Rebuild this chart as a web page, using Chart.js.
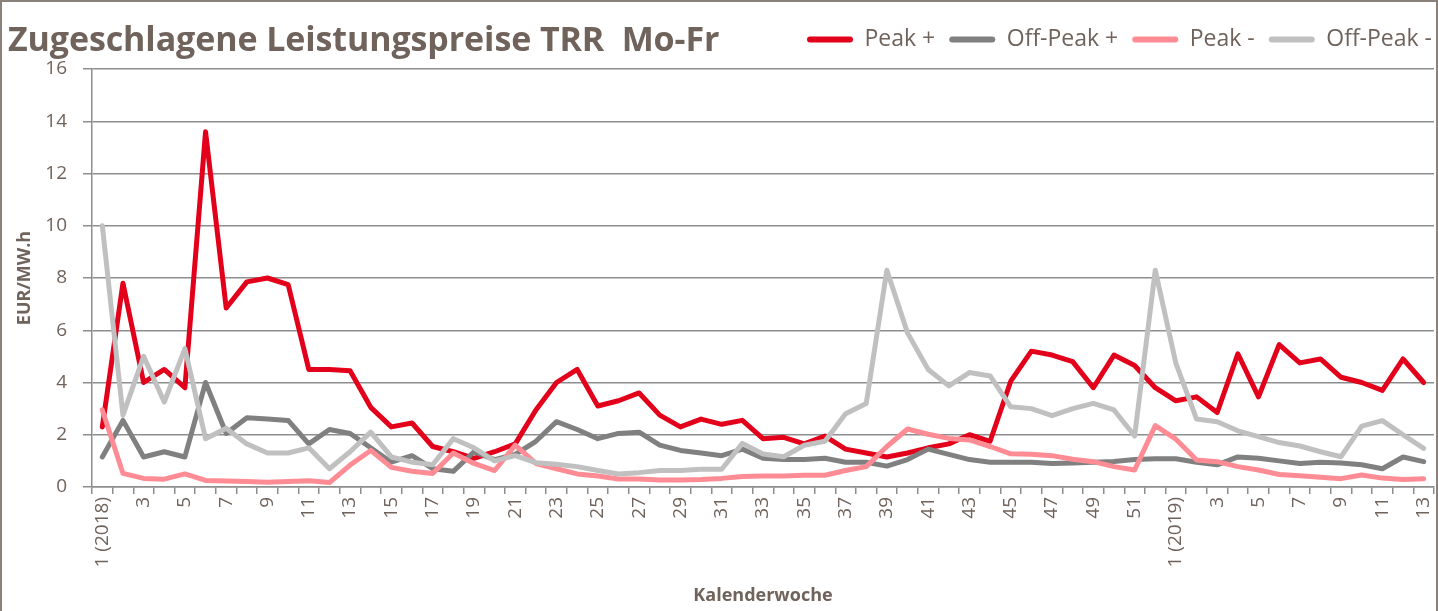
<!DOCTYPE html>
<html>
<head>
<meta charset="utf-8">
<script src="https://cdn.jsdelivr.net/npm/chart.js@4.4.1/dist/chart.umd.min.js"></script>
<style>
  html, body { margin: 0; padding: 0; background: #fff; }
  #frame {
    position: absolute; left: 0; top: 0; width: 1438px; height: 611px;
    box-sizing: border-box; border: 2px solid #8a817a; border-bottom: none;
  }
  #title {
    position: absolute; left: 8px; top: 15px; margin: 0;
    font-family: "Open Sans", sans-serif; font-weight: bold; font-size: 34px;
    line-height: 46px; color: #6f635b; white-space: pre; letter-spacing: -0.1px;
  }
  #wrap { position: absolute; left: 0; top: 0; width: 1438px; height: 611px; }
</style>
</head>
<body>
<div id="wrap"><canvas id="chart" width="1438" height="611"></canvas></div>
<div id="frame"></div>
<h1 id="title">Zugeschlagene Leistungspreise TRR  Mo-Fr</h1>
<script>
(function() {
    'use strict';

    var categories = [
        '1 (2018)', '2', '3', '4', '5', '6', '7', '8', '9', '10', '11', '12', '13',
        '14', '15', '16', '17', '18', '19', '20', '21', '22', '23', '24', '25', '26',
        '27', '28', '29', '30', '31', '32', '33', '34', '35', '36', '37', '38', '39',
        '40', '41', '42', '43', '44', '45', '46', '47', '48', '49', '50', '51', '52',
        '1 (2019)', '2', '3', '4', '5', '6', '7', '8', '9', '10', '11', '12', '13'
    ];

    var peakPlus = [2.3, 7.8, 4.0, 4.5, 3.8, 13.6, 6.85, 7.85, 8.0, 7.75, 4.5, 4.5, 4.45,
        3.05, 2.3, 2.45, 1.55, 1.35, 1.1, 1.35, 1.65, 2.95, 4.0, 4.5, 3.1, 3.3,
        3.6, 2.75, 2.3, 2.6, 2.4, 2.55, 1.85, 1.9, 1.65, 1.95, 1.45, 1.3, 1.15,
        1.3, 1.5, 1.65, 2.0, 1.75, 4.05, 5.2, 5.05, 4.8, 3.8, 5.05, 4.65, 3.8,
        3.3, 3.45, 2.85, 5.1, 3.45, 5.45, 4.75, 4.9, 4.2, 4.0, 3.7, 4.9, 4.0];

    var offPeakPlus = [1.15, 2.55, 1.15, 1.35, 1.15, 4.0, 2.05, 2.65, 2.6, 2.55, 1.65, 2.2, 2.05,
        1.5, 0.95, 1.2, 0.7, 0.6, 1.35, 1.05, 1.25, 1.75, 2.5, 2.2, 1.85, 2.05,
        2.1, 1.6, 1.4, 1.3, 1.2, 1.45, 1.1, 1.05, 1.05, 1.1, 0.95, 0.95, 0.8,
        1.05, 1.45, 1.25, 1.05, 0.95, 0.95, 0.95, 0.9, 0.92, 0.95, 0.98, 1.05, 1.08,
        1.08, 0.95, 0.85, 1.15, 1.1, 1.0, 0.9, 0.95, 0.92, 0.85, 0.7, 1.15, 0.97];

    var peakMinus = [2.95, 0.52, 0.33, 0.3, 0.5, 0.25, 0.23, 0.21, 0.18, 0.21, 0.24, 0.17, 0.84,
        1.4, 0.75, 0.6, 0.52, 1.3, 0.9, 0.63, 1.6, 0.9, 0.7, 0.5, 0.42, 0.31,
        0.31, 0.27, 0.27, 0.29, 0.33, 0.4, 0.42, 0.42, 0.45, 0.45, 0.63, 0.78, 1.55,
        2.22, 2.02, 1.86, 1.8, 1.55, 1.27, 1.25, 1.2, 1.06, 0.97, 0.78, 0.65, 2.35,
        1.83, 1.03, 0.97, 0.78, 0.65, 0.48, 0.43, 0.37, 0.32, 0.46, 0.34, 0.29, 0.32];

    var offPeakMinus = [10.0, 2.75, 5.0, 3.25, 5.3, 1.85, 2.25, 1.65, 1.3, 1.3, 1.5, 0.7, 1.35,
        2.1, 1.15, 0.95, 0.85, 1.85, 1.5, 1.0, 1.2, 0.93, 0.87, 0.78, 0.63, 0.5,
        0.55, 0.63, 0.63, 0.68, 0.68, 1.67, 1.26, 1.16, 1.6, 1.75, 2.8, 3.2, 8.3,
        5.9, 4.5, 3.87, 4.38, 4.25, 3.07, 3.0, 2.73, 3.0, 3.2, 2.95, 1.95, 8.3,
        4.73, 2.6, 2.5, 2.15, 1.93, 1.7, 1.57, 1.35, 1.16, 2.33, 2.54, 2.0, 1.48];

    var textColor = '#6f635b';
    var gridColor = '#8e8e8e';
    var fontFamily = '"Open Sans", sans-serif';

    function series( label, values, color, order ) {
        return {
            label: label,
            data: values,
            borderColor: color,
            backgroundColor: color,
            borderWidth: 5,
            pointRadius: 0,
            tension: 0,
            borderJoinStyle: 'round',
            borderCapStyle: 'round',
            order: order
        };
    }

    // legend sits in the title row, so give it a fixed height
    var legendFit = {
        id: 'legendFit',
        beforeInit: function( chart ) {
            var fit = chart.legend.fit;
            chart.legend.fit = function() {
                fit.call( this );
                this.height = 55;
            };
        }
    };

    var ctx = document.getElementById( 'chart' ).getContext( '2d' );
    new Chart( ctx, {
        type: 'line',
        data: {
            labels: categories,
            datasets: [
                series( 'Peak +', peakPlus, '#e2001a', 4 ),
                series( 'Off-Peak +', offPeakPlus, '#808080', 3 ),
                series( 'Peak -', peakMinus, '#ff8c94', 2 ),
                series( 'Off-Peak -', offPeakMinus, '#c0c0c0', 1 )
            ]
        },
        plugins: [ legendFit ],
        options: {
            responsive: false,
            animation: false,
            layout: { padding: { left: 14, right: -8, top: 14, bottom: 0 } },
            plugins: {
                tooltip: { enabled: false },
                legend: {
                    position: 'top',
                    align: 'end',
                    labels: {
                        color: textColor,
                        font: { family: fontFamily, size: 23 },
                        boxWidth: 46,
                        boxHeight: 6,
                        padding: 14,
                        useBorderRadius: true,
                        borderRadius: 3,
                        sort: function( a, b ) { return a.datasetIndex - b.datasetIndex; },
                        generateLabels: function( chart ) {
                            var items = Chart.defaults.plugins.legend.labels.generateLabels( chart );
                            items.forEach( function( it ) { it.lineWidth = 0; } );
                            return items;
                        }
                    }
                }
            },
            scales: {
                x: {
                    offset: true,
                    afterFit: function( scale ) {
                        scale.height = 124;
                        scale.paddingLeft = 0;
                        scale.paddingRight = 4;
                    },
                    grid: {
                        offset: true,
                        drawOnChartArea: false,
                        drawTicks: true,
                        tickLength: 7,
                        color: gridColor,
                        lineWidth: 1.5
                    },
                    border: { display: true, color: gridColor, width: 1.5 },
                    ticks: {
                        autoSkip: false,
                        minRotation: 90,
                        maxRotation: 90,
                        padding: 3,
                        color: textColor,
                        font: { family: fontFamily, size: 19 },
                        callback: function( value, index ) {
                            return index % 2 === 0 ? this.getLabelForValue( value ) : '';
                        }
                    },
                    title: {
                        display: true,
                        text: 'Kalenderwoche',
                        color: textColor,
                        font: { family: fontFamily, size: 18, weight: 'bold' },
                        padding: { top: 0, bottom: 4 }
                    }
                },
                y: {
                    min: 0,
                    max: 16,
                    afterFit: function( scale ) {
                        scale.width = 78;
                    },
                    ticks: {
                        stepSize: 2,
                        padding: 16,
                        color: textColor,
                        font: { family: fontFamily, size: 19 }
                    },
                    grid: {
                        color: gridColor,
                        lineWidth: 1.5,
                        tickLength: 9
                    },
                    border: { display: true, color: gridColor, width: 1.5 },
                    title: {
                        display: true,
                        text: 'EUR/MW.h',
                        color: textColor,
                        font: { family: fontFamily, size: 18, weight: 'bold' },
                        padding: { top: 0, bottom: 0 }
                    }
                }
            }
        }
    } );
})();
</script>
</body>
</html>
